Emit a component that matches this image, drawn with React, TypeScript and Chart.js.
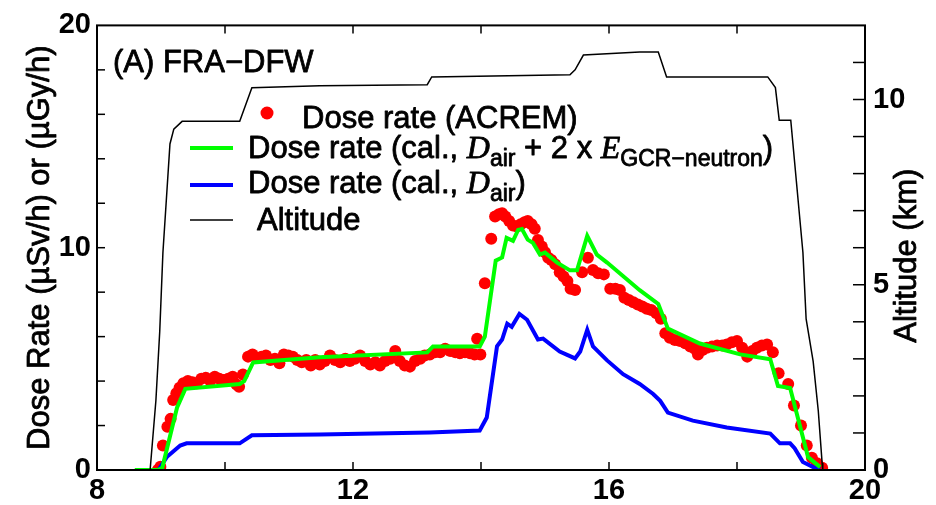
import React, { useEffect, useRef } from "react";
import { Chart, registerables } from "chart.js";
Chart.register(...registerables);

// ---------- data ----------
const altHours = [8.83, 8.92, 8.98, 9.03, 9.08, 9.14, 9.2, 9.33, 10.23, 10.42, 11.48, 13.16, 13.23, 15.39, 15.47, 15.6, 16.48, 16.77, 16.9, 18.48, 18.6, 18.66, 18.84, 19.03, 19.08, 19.19, 19.27, 19.33, 19.34];
const altKm = [0, 1.87, 3.73, 5.87, 7.2, 8.8, 9.2, 9.41, 9.41, 10.32, 10.37, 10.4, 10.61, 10.67, 10.8, 11.2, 11.28, 11.28, 10.61, 10.61, 10.32, 9.44, 9.44, 5.87, 4.08, 2.93, 1.6, 0.19, 0];

const greenHours = [8.59, 8.95, 9.02, 9.25, 9.38, 10.23, 10.3, 10.44, 11.48, 13.16, 13.25, 13.98, 14.06, 14.23, 14.33, 14.4, 14.5, 14.58, 14.64, 14.73, 14.81, 14.92, 15.0, 15.19, 15.39, 15.5, 15.66, 15.81, 15.97, 16.48, 16.77, 16.92, 17.42, 18.05, 18.52, 18.64, 18.83, 19.11, 19.3];
const greenDose = [0, 0, 0.1, 2.8, 3.65, 3.87, 4.0, 4.84, 5.07, 5.29, 5.56, 5.56, 6.0, 9.42, 9.56, 10.44, 10.31, 10.8, 10.84, 10.36, 10.22, 9.69, 9.78, 9.33, 8.98, 8.98, 10.53, 9.69, 9.33, 8.09, 7.47, 6.36, 5.69, 5.2, 4.98, 3.78, 3.69, 0.58, 0.13];

const blueHours = [8.9, 8.96, 9.09, 9.3, 9.4, 10.23, 10.42, 11.48, 13.2, 13.98, 14.09, 14.25, 14.33, 14.41, 14.48, 14.6, 14.72, 14.89, 14.97, 15.23, 15.47, 15.55, 15.66, 15.75, 15.97, 16.22, 16.48, 16.69, 16.8, 16.92, 17.31, 17.84, 18.52, 18.67, 18.83, 18.9, 19.03, 19.19, 19.3];
const blueDose = [0, 0, 0.58, 1.1, 1.2, 1.2, 1.56, 1.6, 1.69, 1.78, 2.36, 5.56, 5.87, 6.58, 6.44, 7.02, 6.76, 5.87, 5.91, 5.33, 5.02, 5.33, 6.31, 5.56, 4.93, 4.31, 3.87, 3.42, 3.11, 2.58, 2.22, 1.91, 1.64, 1.2, 1.2, 0.98, 0.36, 0.13, 0.05];

const acremHours = [8.95, 8.99, 9.03, 9.1, 9.15, 9.19, 9.24, 9.29, 9.35, 9.42, 9.49, 9.56, 9.63, 9.7, 9.77, 9.84, 9.91, 9.98, 10.05, 10.12, 10.18, 10.22, 10.28, 10.36, 10.43, 10.5, 10.57, 10.64, 10.71, 10.78, 10.85, 10.92, 10.99, 11.06, 11.13, 11.2, 11.27, 11.34, 11.41, 11.48, 11.56, 11.64, 11.72, 11.8, 11.88, 11.95, 12.03, 12.11, 12.19, 12.27, 12.35, 12.42, 12.5, 12.58, 12.66, 12.73, 12.81, 12.89, 12.97, 13.05, 13.12, 13.2, 13.28, 13.36, 13.44, 13.52, 13.6, 13.67, 13.75, 13.83, 13.9, 13.94, 13.99, 14.06, 14.16, 14.22, 14.28, 14.33, 14.38, 14.44, 14.5, 14.56, 14.62, 14.68, 14.73, 14.79, 14.84, 14.89, 14.95, 15.0, 15.05, 15.1, 15.16, 15.23, 15.29, 15.35, 15.4, 15.47, 15.58, 15.67, 15.75, 15.83, 15.92, 16.02, 16.1, 16.17, 16.24, 16.31, 16.38, 16.45, 16.52, 16.59, 16.66, 16.74, 16.81, 16.88, 16.95, 17.03, 17.11, 17.19, 17.27, 17.34, 17.39, 17.46, 17.53, 17.61, 17.69, 17.77, 17.84, 17.92, 18.0, 18.08, 18.16, 18.24, 18.31, 18.39, 18.47, 18.56, 18.65, 18.8, 18.89, 19.0, 19.09, 19.17, 19.25, 19.33];
const acremDose = [0.0, 0.15, 1.1, 1.95, 2.3, 3.15, 3.45, 3.7, 3.9, 4.0, 3.95, 3.9, 4.1, 4.15, 4.0, 4.2, 4.1, 4.05, 4.1, 4.2, 3.85, 3.75, 4.3, 5.1, 5.2, 5.05, 5.1, 5.15, 4.95, 5.0, 4.8, 5.2, 5.15, 5.1, 4.95, 4.85, 4.95, 4.7, 4.95, 4.75, 4.9, 5.15, 4.95, 4.85, 5.0, 4.9, 5.0, 5.15, 4.9, 4.75, 4.85, 4.7, 4.9, 5.0, 5.35, 4.9, 4.7, 4.65, 4.9, 5.0, 5.15, 5.2, 5.3, 5.3, 5.45, 5.35, 5.3, 5.25, 5.3, 5.25, 5.2, 5.9, 5.2, 8.4, 10.4, 11.4, 11.5, 11.55, 11.4, 11.2, 11.0, 10.95, 11.05, 11.15, 11.2, 11.05, 10.85, 10.35, 10.05, 9.8, 9.55, 9.45, 9.25, 8.9, 8.7, 8.5, 8.15, 8.1, 8.9, 9.55, 9.0, 8.85, 8.8, 8.15, 8.15, 8.1, 7.75, 7.65, 7.55, 7.45, 7.35, 7.25, 7.2, 7.05, 6.8, 6.15, 5.95, 5.85, 5.8, 5.7, 5.55, 5.45, 5.2, 5.4, 5.5, 5.55, 5.6, 5.6, 5.65, 5.75, 5.8, 5.5, 5.1, 5.35, 5.5, 5.6, 5.65, 5.3, 4.35, 3.87, 2.9, 2.0, 1.1, 0.55, 0.3, 0.1];

const xTicks = [8, 12, 16, 20];
const xMinorTicks = [10, 12, 14, 16, 18];
const yTicks = [0, 10, 20];
const yMinorTicks = [2, 4, 6, 8, 10, 12, 14, 16, 18];
const y2Ticks = [0, 5, 10];
const y2MinorTicks = [1, 2, 3, 4, 5, 6, 7, 8, 9, 10, 11];

const panelTitle = "(A) FRA\u2212DFW";
const yTitle = "Dose Rate (\u00b5Sv/h) or (\u00b5Gy/h)";
const y2Title = "Altitude (km)";
const legendAcrem = "Dose rate (ACREM)";
const legendCalPrefix = "Dose rate (cal., ";
const legendAlt = "Altitude";

const SANS = '"Liberation Sans", Arial, sans-serif';
const SERIF = '"Liberation Serif", "Times New Roman", serif';

const toPts = (xs: number[], ys: number[]) => xs.map((x, i) => ({ x, y: ys[i] }));

function heavyText(ctx: CanvasRenderingContext2D, t: string, x: number, y: number) {
  ctx.fillText(t, x, y);
  ctx.strokeText(t, x, y);
}

type Part = { t: string; font: string; dy?: number };
function drawRich(ctx: CanvasRenderingContext2D, x: number, y: number, parts: Part[]) {
  let cx = x;
  for (const p of parts) {
    ctx.font = p.font;
    heavyText(ctx, p.t, cx, y + (p.dy || 0));
    cx += ctx.measureText(p.t).width;
  }
  return cx;
}

const decorPlugin = {
  id: "decor",
  afterDraw(chart: any) {
    const { ctx, chartArea: a, scales } = chart;
    ctx.save();
    ctx.strokeStyle = "#000";
    ctx.lineWidth = 1.5;
    const seg = (x1: number, y1: number, x2: number, y2: number) => {
      ctx.beginPath();
      ctx.moveTo(x1, y1);
      ctx.lineTo(x2, y2);
      ctx.stroke();
    };
    xMinorTicks.forEach((v) => {
      const px = scales.x.getPixelForValue(v);
      seg(px, a.bottom, px, a.bottom - 8);
      seg(px, a.top, px, a.top + 8);
    });
    yMinorTicks.forEach((v) => {
      const py = scales.y.getPixelForValue(v);
      seg(a.left, py, a.left + 8, py);
    });
    y2MinorTicks.forEach((v) => {
      const py = scales.y2.getPixelForValue(v);
      seg(a.right, py, a.right - 12, py);
    });
    ctx.lineWidth = 2;
    ctx.strokeRect(a.left, a.top, a.right - a.left, a.bottom - a.top);

    ctx.fillStyle = "#000";
    ctx.strokeStyle = "#000";
    ctx.lineWidth = 0.8;
    ctx.lineJoin = "round";
    const main = `31px ${SANS}`;

    // left axis title
    ctx.save();
    ctx.translate(40, (a.top + a.bottom) / 2);
    ctx.rotate(-Math.PI / 2);
    ctx.textAlign = "center";
    ctx.textBaseline = "middle";
    ctx.font = main;
    heavyText(ctx, yTitle, 0, 0);
    ctx.restore();

    // right axis title (reads bottom-to-top)
    ctx.save();
    ctx.translate(907, (a.top + a.bottom) / 2 + 8);
    ctx.rotate(-Math.PI / 2);
    ctx.textAlign = "center";
    ctx.textBaseline = "middle";
    ctx.font = main;
    heavyText(ctx, y2Title, 0, 0);
    ctx.restore();

    // panel title
    ctx.textAlign = "left";
    ctx.textBaseline = "alphabetic";
    const ital = `italic 32px ${SERIF}`;
    const sub = `23px ${SANS}`;
    ctx.font = main;
    heavyText(ctx, panelTitle, 113, 72);

    // legend row 1
    ctx.fillStyle = "#ff0000";
    ctx.beginPath();
    ctx.arc(267, 113, 6.5, 0, Math.PI * 2);
    ctx.fill();
    ctx.fillStyle = "#000";
    ctx.font = main;
    heavyText(ctx, legendAcrem, 302, 128);

    // row 2
    ctx.lineWidth = 4;
    ctx.strokeStyle = "#00ff00";
    seg(190, 148, 233, 148);
    ctx.strokeStyle = "#000";
    ctx.lineWidth = 0.8;
    drawRich(ctx, 248, 158, [
      { t: legendCalPrefix, font: main },
      { t: "D", font: ital },
      { t: "air", font: sub, dy: 8 },
      { t: " + 2 x ", font: main },
      { t: "E", font: ital },
      { t: "GCR\u2212neutron", font: sub, dy: 8 },
      { t: ")", font: main },
    ]);

    // row 3
    ctx.lineWidth = 4;
    ctx.strokeStyle = "#0000ff";
    seg(190, 185, 233, 185);
    ctx.strokeStyle = "#000";
    ctx.lineWidth = 0.8;
    drawRich(ctx, 248, 193, [
      { t: legendCalPrefix, font: main },
      { t: "D", font: ital },
      { t: "air", font: sub, dy: 8 },
      { t: ")", font: main },
    ]);

    // row 4
    ctx.lineWidth = 1.5;
    seg(190, 220, 233, 220);
    ctx.lineWidth = 0.8;
    ctx.font = main;
    heavyText(ctx, legendAlt, 257, 230);
    ctx.restore();
  },
};

export default function App() {
  const ref = useRef<HTMLCanvasElement | null>(null);
  useEffect(() => {
    document.body.style.margin = "0";
    const canvas = ref.current!;
    const tickFont = { family: SANS, size: 29, weight: "bold" as const };
    const chart = new Chart(canvas, {
      type: "line",
      data: {
        datasets: [
          {
            label: "Dose rate (cal., Dair + 2 x EGCR-neutron)",
            data: toPts(greenHours, greenDose),
            borderColor: "#00ff00",
            borderWidth: 4,
            pointRadius: 0,
            tension: 0,
            yAxisID: "y",
            order: 1,
          },
          {
            label: "Dose rate (cal., Dair)",
            data: toPts(blueHours, blueDose),
            borderColor: "#0000ff",
            borderWidth: 4,
            pointRadius: 0,
            tension: 0,
            yAxisID: "y",
            order: 2,
          },
          {
            label: "Altitude",
            data: toPts(altHours, altKm),
            borderColor: "#000000",
            borderWidth: 1.5,
            pointRadius: 0,
            tension: 0,
            yAxisID: "y2",
            order: 0,
          },
          {
            label: "Dose rate (ACREM)",
            data: toPts(acremHours, acremDose),
            showLine: false,
            pointRadius: 6,
            pointBackgroundColor: "#ff0000",
            pointBorderWidth: 0,
            borderColor: "#ff0000",
            yAxisID: "y",
            order: 3,
          },
        ],
      },
      options: {
        responsive: false,
        animation: false,
        layout: { padding: { top: 20, left: 0, right: 0, bottom: 0 } },
        plugins: { legend: { display: false }, tooltip: { enabled: false } },
        scales: {
          x: {
            type: "linear",
            position: "bottom",
            min: 8,
            max: 20,
            grid: { display: false, drawTicks: false },
            border: { display: false },
            afterBuildTicks: (s: any) => { s.ticks = xTicks.map((v) => ({ value: v })); },
            ticks: { font: tickFont, color: "#000", padding: 4, maxRotation: 0, autoSkip: false },
            afterFit: (s: any) => { s.height = 35; },
          },
          y: {
            type: "linear",
            position: "left",
            min: 0,
            max: 20,
            grid: { display: false, drawTicks: false },
            border: { display: false },
            afterBuildTicks: (s: any) => { s.ticks = yTicks.map((v) => ({ value: v })); },
            ticks: { font: tickFont, color: "#000", padding: 6 },
            title: { display: false, text: yTitle },
            afterFit: (s: any) => { s.width = 97; },
          },
          y2: {
            type: "linear",
            position: "right",
            min: 0,
            max: 12,
            grid: { display: false, drawTicks: false },
            border: { display: false },
            afterBuildTicks: (s: any) => { s.ticks = y2Ticks.map((v) => ({ value: v })); },
            ticks: { font: tickFont, color: "#000", padding: 8 },
            title: { display: false, text: y2Title },
            afterFit: (s: any) => { s.width = 71; },
          },
        },
      },
      plugins: [decorPlugin],
    });
    return () => chart.destroy();
  }, []);
  return (
    <div style={{ position: "absolute", left: 0, top: 0, width: 936, height: 505, background: "#fff" }}>
      <canvas ref={ref} width={936} height={505} style={{ display: "block" }} />
    </div>
  );
}
